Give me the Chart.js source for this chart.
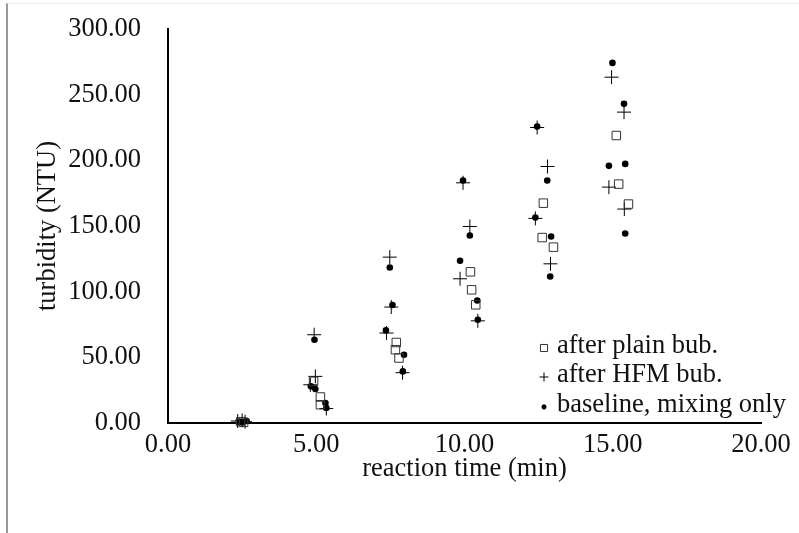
<!DOCTYPE html>
<html>
<head>
<meta charset="utf-8">
<script src="https://cdn.jsdelivr.net/npm/chart.js@4/dist/chart.umd.min.js"></script>
<style>
  html, body { margin: 0; padding: 0; background: #fff; }
  #wrap { position: relative; width: 799px; height: 533px; overflow: hidden; }
  #frame { position: absolute; left: 6px; top: 3px; right: 0; bottom: 0;
           border-left: 2px solid #9a9a9a; border-top: 1px solid #ececec; pointer-events: none; }
  canvas { position: absolute; left: 0; top: 0; }
</style>
</head>
<body>
<div id="wrap">
  <canvas id="c" width="799" height="533"></canvas>
  <div id="frame"></div>
</div>
<script>
// reaction time (min) / turbidity (NTU)
const plainX = [2.45, 2.55, 4.91, 5.14, 5.14, 7.70, 7.67, 7.79, 10.20, 10.24, 10.38, 12.66, 12.62, 13.00, 15.12, 15.20, 15.53]
const plainY = [1.0, 0.5, 31.7, 19.8, 13.9, 61.3, 55.8, 49.5, 115.1, 101.4, 90.0, 167.4, 141.2, 133.9, 218.9, 181.9, 166.7]

const hfmX = [2.35, 2.50, 2.60, 4.93, 4.97, 4.80, 5.34, 7.48, 7.53, 7.37, 7.91, 9.95, 10.18, 9.85, 10.45, 12.45, 12.80, 12.39, 12.90, 14.96, 15.38, 14.87, 15.39]
const hfmY = [1.5, 2.0, 1.0, 67.2, 35.5, 29.1, 11.0, 126.3, 88.3, 68.5, 38.3, 182.9, 149.6, 109.8, 77.8, 225.0, 195.3, 155.8, 121.2, 263.3, 236.7, 179.6, 162.9]

const baseX = [2.40, 2.50, 2.65, 4.94, 4.82, 4.97, 5.31, 5.34, 7.48, 7.57, 7.35, 7.96, 7.92, 9.95, 10.18, 9.85, 10.43, 10.45, 12.45, 12.79, 12.39, 12.92, 12.89, 14.99, 15.38, 14.87, 15.42, 15.42]
const baseY = [1.0, 0.5, 1.5, 63.4, 27.9, 25.9, 15.2, 11.4, 118.4, 89.8, 70.5, 52.0, 39.3, 184.6, 142.8, 123.5, 93.3, 78.6, 225.7, 184.6, 156.5, 142.0, 111.6, 274.2, 243.0, 195.8, 197.3, 144.3]

const seriesNames = ['after plain bub.', 'after HFM bub.', 'baseline, mixing only']
const xTicks = [0, 5, 10, 15, 20]
const yTicks = [0, 50, 100, 150, 200, 250, 300]

const pts = (xs, ys) => xs.map((x, i) => ({ x, y: ys[i] }))
const FAMILY = "'Liberation Serif', 'Times New Roman', serif"
const FONT = { family: FAMILY, size: 26.5 }
const INK = '#111'

// legend drawn inside the plot, bottom right
const innerLegend = {
  id: 'innerLegend',
  afterDraw(chart) {
    const ctx = chart.ctx
    const rows = [346, 375, 405]
    const styles = [
      { pointStyle: 'rect', radius: 5, borderWidth: 1 },
      { pointStyle: 'cross', radius: 4.5, borderWidth: 1 },
      { pointStyle: 'circle', radius: 2.4, borderWidth: 0 },
    ]
    ctx.save()
    ctx.font = `26.5px ${FAMILY}`
    ctx.textBaseline = 'middle'
    seriesNames.forEach((name, i) => {
      const ds = chart.data.datasets[i]
      ctx.strokeStyle = ds.borderColor
      ctx.fillStyle = ds.backgroundColor
      ctx.lineWidth = styles[i].borderWidth
      Chart.helpers.drawPoint(ctx, { ...styles[i], rotation: 0 }, 544, rows[i] + 2)
      if (i === 2) ctx.fill()
      ctx.fillStyle = INK
      ctx.fillText(name, 557, rows[i])
    })
    ctx.restore()
  }
}

new Chart(document.getElementById('c'), {
  type: 'scatter',
  data: {
    datasets: [
      { label: seriesNames[0], data: pts(plainX, plainY), pointStyle: 'rect', pointRadius: 6,
        borderColor: '#333', backgroundColor: 'rgba(0,0,0,0)', borderWidth: 1, clip: false },
      { label: seriesNames[1], data: pts(hfmX, hfmY), pointStyle: 'cross', pointRadius: 7,
        borderColor: '#000', backgroundColor: '#000', borderWidth: 1, clip: false },
      { label: seriesNames[2], data: pts(baseX, baseY), pointStyle: 'circle', pointRadius: 3.3,
        borderColor: '#000', backgroundColor: '#000', borderWidth: 0, clip: false },
    ],
  },
  options: {
    responsive: false,
    animation: false,
    layout: { padding: { left: 0, right: 38, top: 29, bottom: 0 } },
    plugins: { legend: { display: false }, tooltip: { enabled: false } },
    scales: {
      x: {
        type: 'linear', min: 0, max: 20,
        afterBuildTicks: s => { s.ticks = xTicks.map(value => ({ value })) },
        afterFit: s => { s.height = 110 },
        ticks: { callback: v => v.toFixed(2), font: FONT, color: INK, padding: 6, maxRotation: 0 },
        grid: { display: false, drawTicks: false },
        border: { color: '#000', width: 2 },
        title: { display: true, text: 'reaction time (min)', font: FONT, color: INK, padding: { top: 0, bottom: 48 } },
      },
      y: {
        min: 0, max: 300,
        afterBuildTicks: s => { s.ticks = yTicks.map(value => ({ value })) },
        afterFit: s => { s.width = 168; s.paddingTop = 0; s.paddingBottom = 0 },
        ticks: { callback: v => v.toFixed(2), font: FONT, color: INK, padding: 27 },
        grid: { display: false, drawTicks: false },
        border: { color: '#000', width: 2 },
        title: { display: true, text: 'turbidity (NTU)', font: FONT, color: INK, padding: { top: 32, bottom: 0 } },
      },
    },
  },
  plugins: [innerLegend],
})
</script>
</body>
</html>
